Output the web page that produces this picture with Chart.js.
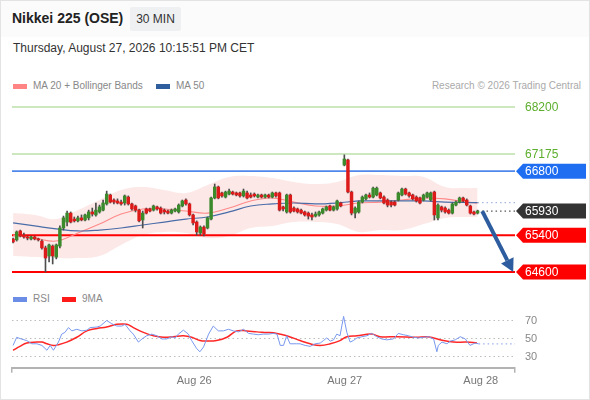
<!DOCTYPE html>
<html>
<head>
<meta charset="utf-8">
<script src="https://cdn.jsdelivr.net/npm/chart.js@4.4.1/dist/chart.umd.min.js"></script>
<style>
  body { margin: 0; background: #fff; font-family: "Liberation Sans", Arial, sans-serif; }
  #page { position: relative; width: 590px; height: 400px; overflow: hidden; }
  #frame { position: absolute; left: 0; top: 0; width: 588px; height: 398px; border: 1px solid #e3e3e3; }
  #head { position: absolute; left: 1px; top: 1px; width: 588px; height: 36px; background: #fbfbfb; }
  .abs { position: absolute; white-space: nowrap; }
  #title { left: 12px; top: 8px; font-size: 14px; font-weight: bold; color: #222; line-height: 20px; }
  #tf { left: 130px; top: 7px; width: 51px; height: 24px; line-height: 24px; background: #eff0f2; border-radius: 2px;
        font-size: 12px; color: #333; text-align: center; }
  #date { left: 13px; top: 41px; font-size: 12px; color: #333; line-height: 14px; }
  .leg { font-size: 10px; color: #888; line-height: 12px; }
  .sw { position: absolute; width: 14px; height: 5px; }
  canvas { position: absolute; left: 0; }
</style>
</head>
<body>
<div id="page">
  <div id="frame"></div>
  <div id="head"></div>
  <div class="abs" id="title">Nikkei 225 (OSE)</div>
  <div class="abs" id="tf">30 MIN</div>
  <div class="abs" id="date">Thursday, August 27, 2026 10:15:51 PM CET</div>

  <div class="sw" style="left:13px; top:84px; background:#ff8585;"></div>
  <div class="abs leg" style="left:33px; top:80px;">MA 20 + Bollinger Bands</div>
  <div class="sw" style="left:156px; top:84px; background:#2f5e9e;"></div>
  <div class="abs leg" style="left:176px; top:80px;">MA 50</div>
  <div class="abs leg" style="right:9px; top:80px; color:#aaa;">Research © 2026 Trading Central</div>

  <div class="sw" style="left:13px; top:297px; background:#6b8de6;"></div>
  <div class="abs leg" style="left:33px; top:293px;">RSI</div>
  <div class="sw" style="left:62px; top:297px; background:#ff1a1a;"></div>
  <div class="abs leg" style="left:82px; top:293px;">9MA</div>

  <canvas id="price" width="590" height="195" style="top:90px; width:590px; height:195px;"></canvas>
  <canvas id="rsi" width="590" height="90" style="top:305px; width:590px; height:90px;"></canvas>
</div>
<script>
// 30 min candles
var opens = [
  65320, 65300, 65495, 65405, 65365, 65320, 65365, 65320, 65275, 65125,
  64950, 65165, 64925, 65165, 65560, 65690, 65885, 65755, 65715, 65780,
  65735, 65780, 65910, 65845, 65910, 65950, 66085, 66280, 66170, 66150,
  66125, 66105, 66235, 66085, 66040, 65950, 65735, 65975, 65975, 65950,
  66020, 65995, 65950, 65930, 65885, 65930, 65910, 66040, 66170, 66085,
  65845, 65690, 65450, 65580, 65560, 65755, 66215, 66455, 66325, 66235,
  66300, 66345, 66325, 66325, 66260, 66325, 66280, 66300, 66235, 66280,
  66235, 66280, 66235, 66325, 66325, 66020, 65910, 66280, 65995, 65975,
  65950, 65910, 65885, 65845, 65820, 65845, 65885, 65950, 66040, 65950,
  65975, 66105, 66935, 67045, 66345, 65885, 65910, 66125, 66195, 66280,
  66235, 66280, 66325, 66235, 66170, 66125, 66125, 66170, 66280, 66410,
  66325, 66280, 66235, 66215, 66170, 66235, 66170, 66345, 65780, 66020,
  65995, 65950, 65885, 66060, 66125, 66215, 66170, 66040, 65910, 65885
];
var highs = [
  65340, 65495, 65515, 65450, 65385, 65385, 65385, 65340, 65300, 65165,
  65210, 65190, 65210, 65605, 65820, 65930, 65910, 65800, 65820, 65845,
  65865, 65950, 65995, 66105, 66060, 66170, 66365, 66300, 66195, 66195,
  66170, 66280, 66260, 66105, 66060, 65975, 65930, 65995, 65995, 66060,
  66040, 66020, 65975, 65950, 65975, 65995, 66085, 66170, 66195, 66105,
  65865, 65715, 65605, 65605, 65800, 66235, 66520, 66475, 66345, 66365,
  66410, 66365, 66345, 66345, 66410, 66365, 66325, 66325, 66300, 66300,
  66300, 66300, 66345, 66345, 66345, 66040, 66300, 66300, 66020, 65995,
  65975, 65930, 65910, 65885, 65910, 65930, 65995, 66040, 66060, 66040,
  66170, 66125, 67155, 67065, 66365, 66020, 66150, 66260, 66300, 66325,
  66455, 66455, 66345, 66260, 66195, 66150, 66150, 66345, 66430, 66430,
  66345, 66300, 66260, 66235, 66300, 66345, 66345, 66365, 66085, 66040,
  66020, 65975, 66105, 66150, 66235, 66235, 66195, 66060, 65930, 65950
];
var lows = [
  65235, 65275, 65365, 65340, 65300, 65300, 65300, 65275, 65100, 64600,
  64820, 64775, 64885, 65125, 65515, 65605, 65670, 65690, 65690, 65715,
  65715, 65735, 65820, 65820, 65885, 65930, 66060, 66105, 66085, 66085,
  66060, 66060, 66060, 65950, 65910, 65690, 65560, 65865, 65910, 65930,
  65950, 65865, 65865, 65865, 65865, 65910, 65885, 66020, 66060, 65820,
  65625, 65405, 65405, 65385, 65540, 65735, 66195, 66195, 66235, 66215,
  66280, 66280, 66260, 66235, 66235, 66195, 66215, 66235, 66215, 66215,
  66215, 66215, 66215, 66235, 65930, 65930, 65885, 65885, 65910, 65885,
  65865, 65820, 65755, 65735, 65800, 65820, 65865, 65930, 65930, 65930,
  65950, 66020, 66915, 66325, 65845, 65780, 65885, 66105, 66170, 66215,
  66215, 66260, 66195, 66085, 66020, 66020, 66040, 66150, 66260, 66280,
  66235, 66170, 66125, 66085, 66150, 66215, 66150, 65735, 65735, 65910,
  65885, 65865, 65865, 66040, 66105, 66125, 66040, 65865, 65845, 65865
];
var closes = [
  65255, 65475, 65385, 65365, 65340, 65365, 65320, 65300, 65125, 64905,
  65190, 64950, 65190, 65560, 65780, 65885, 65690, 65715, 65780, 65735,
  65845, 65910, 65865, 65950, 66020, 66105, 66300, 66125, 66125, 66105,
  66085, 66260, 66085, 65975, 65950, 65715, 65885, 65885, 65930, 66040,
  65975, 65885, 65910, 65885, 65950, 65975, 66060, 66150, 66085, 65845,
  65670, 65475, 65580, 65430, 65780, 66215, 66455, 66215, 66260, 66345,
  66365, 66300, 66280, 66260, 66365, 66215, 66235, 66260, 66280, 66235,
  66280, 66235, 66325, 66260, 65950, 65975, 66280, 65910, 65930, 65910,
  65885, 65845, 65820, 65800, 65865, 65910, 65975, 66020, 65950, 66020,
  66150, 66040, 67065, 66345, 65885, 65995, 66125, 66235, 66280, 66235,
  66430, 66430, 66215, 66105, 66060, 66060, 66060, 66325, 66410, 66300,
  66260, 66195, 66150, 66105, 66280, 66325, 66325, 65845, 66060, 65950,
  65910, 65885, 66085, 66125, 66215, 66150, 66060, 65885, 65865, 65930
];

// overlays, sampled at these candle positions
var maAt    = [0, 6, 12, 18, 24, 30, 36, 42, 48, 54, 60, 66, 72, 78, 84, 90, 96, 102, 108, 114, 120, 126, 129];
var ma20    = [65405, 65340, 65275, 65450, 65645, 65865, 65975, 65975, 65930, 65885, 65995, 66150, 66215, 66125, 66040, 66040, 66105, 66125, 66170, 66215, 66195, 66125, 66105];
var ma50    = [65670, 65605, 65540, 65495, 65515, 65560, 65625, 65690, 65755, 65800, 65910, 66040, 66085, 66105, 66085, 66105, 66150, 66150, 66150, 66150, 66125, 66115, 66115];
var bbUpper = [65885, 65845, 65755, 65950, 66170, 66390, 66455, 66390, 66325, 66500, 66675, 66695, 66650, 66565, 66520, 66565, 66715, 66715, 66695, 66675, 66455, 66430, 66430];
var bbLower = [64950, 64925, 64905, 64905, 64950, 65190, 65405, 65475, 65450, 65340, 65385, 65560, 65605, 65690, 65690, 65645, 65475, 65515, 65515, 65645, 65780, 65800, 65800];

var levels = [68200, 67175, 66800, 65400, 64600];
var lastPrice = 65930;
var arrowX = [130.3, 138.9];
var arrowY = [65930, 64600];

// RSI panel
var rsiAt  = [0, 1, 2.4, 3.8, 5.2, 6.6, 8, 9.4, 10.3, 11.2, 12.6, 13.5, 14.4, 15.4, 16.3, 17.7, 19.1, 20.5, 21.4, 23.3,
              24.2, 26, 27.4, 28.8, 30.2, 31.1, 32.5, 33.4, 34.8, 35.8, 37.1, 38.5, 39.9, 41.3, 42.7, 44.1, 45, 45.9, 47.3, 48.7,
              49.6, 51, 51.9, 52.9, 54.3, 55.6, 57, 58.4, 59.8, 61.2, 62.6, 64, 65.4, 66.8, 68.1, 69.5, 70.9, 72.3, 73.3, 74.2,
              75.1, 76, 76.9, 78.8, 79.7, 81.1, 82.5, 83.9, 85.3, 86.2, 87.1, 88.1, 89, 89.9, 90.8, 91.8, 92.7, 93.6, 94.5, 95.5,
              96.9, 98.3, 99.6, 101, 102.4, 103.8, 105.6, 107, 108.4, 109.8, 111.2, 112.6, 114, 115.4, 116.8, 117.7, 118.1, 119.1, 120.5, 121.4,
              122.8, 124.2, 125.6, 126.9, 128.3, 129.3];
var rsiVal = [42, 51, 49, 47.4, 43.8, 43.8, 42, 36.6, 42, 36.6, 45.7, 54.6, 56.5, 61.9, 58.2, 60, 58.2, 59, 61.9, 62.5,
              63.6, 69.8, 66.2, 63.6, 63.6, 65.5, 58.2, 54.6, 45.7, 49.2, 52.8, 54.6, 52.8, 49.2, 49.2, 51.7, 50.3, 54.6, 59, 54.6,
              47.4, 38.4, 34.9, 40.3, 54.6, 63.6, 58.2, 58.2, 60, 58.2, 57.1, 60, 55.4, 54.6, 53.9, 54.6, 54.6, 55.4, 54.6, 42,
              42, 52.8, 43.8, 43.8, 43.8, 42, 40.9, 43.8, 44.6, 47.4, 50.3, 46.8, 48.2, 54.6, 52.8, 74.4, 56.5, 45.7, 47.4, 50.3,
              51.7, 52.8, 55.4, 51.7, 49.2, 48.2, 49.2, 55.4, 53.9, 52.8, 51.1, 50.3, 51.1, 51.7, 49.2, 34.9, 42, 45.7, 43.8, 46.8,
              48.2, 51.7, 49.2, 42, 44.6, 43.8];
var rsiMaAt  = [0, 1.9, 3.8, 6.6, 8, 9.4, 11.2, 12.6, 14.9, 17.7, 20.5, 23.3, 26, 28.8, 31.6, 33.4, 36.2, 39, 41.8, 44.5,
                47.3, 49.6, 51.9, 53.8, 56.5, 59.4, 62.1, 64.9, 67.7, 70.5, 73.3, 76, 79.7, 82.5, 85.3, 88.1, 90.8, 92.7, 95.5, 99.6,
                101.9, 106.6, 112.1, 114.9, 116.8, 119.5, 122.3, 126, 128.8];
var rsiMaVal = [36.6, 40.9, 44.6, 45.7, 45.7, 43.8, 42, 42.8, 45.7, 51.1, 58.2, 60.8, 62.5, 65.5, 65.5, 61.9, 56.5, 52.8, 51.1, 51.7,
                52.8, 51.1, 47.4, 46.8, 47.4, 51.1, 58.2, 58.2, 57.1, 56.5, 55.4, 52.8, 47.4, 43.8, 42, 43.8, 47.4, 51.7, 52.8, 54.6,
                51.7, 51.7, 51.1, 51.7, 50.3, 47.4, 45.7, 45.7, 44.9];
var rsiTicks = [30, 50, 70];

var dayTicks = [50.3, 92.1, 129.9];
var dayLabels = ["Aug 26", "Aug 27", "Aug 28"];

// layout constants
var X_MIN = -0.3, X_MAX = 139.4;
var P_MIN = 64316, P_MAX = 68571;
var R_MIN = 17.0, R_MAX = 87.1;
var FONT = '"Liberation Sans", Arial, sans-serif';

Chart.defaults.font.family = FONT;

function pts(xs, ys) {
    var out = [];
    var n = Math.min(xs.length, ys.length);
    for (var i = 0; i < n; i++) {
        out.push({x: xs[i], y: ys[i]});
    }
    return out;
}

var levelStyle = [
    {line: "#bcdfa8", width: 1.5, text: "#5cae2c", tag: null},
    {line: "#bcdfa8", width: 1.5, text: "#5cae2c", tag: null},
    {line: "#4f87ea", width: 1.8, text: "#fff", tag: "#1f6ef2"},
    {line: "#ff0000", width: 2, text: "#fff", tag: "#ff0000"},
    {line: "#ff0000", width: 2, text: "#fff", tag: "#ff0000"}
];

function drawTag(ctx, x, y, color) {
    ctx.fillStyle = color;
    ctx.beginPath();
    ctx.moveTo(x, y);
    ctx.lineTo(x + 7, y - 7.5);
    ctx.lineTo(586, y - 7.5);
    ctx.lineTo(586, y + 7.5);
    ctx.lineTo(x + 7, y + 7.5);
    ctx.closePath();
    ctx.fill();
}

// price labels on the right and the forecast arrow
var priceLabels = {
    id: "priceLabels",
    afterDraw: function(chart) {
        var ctx = chart.ctx, area = chart.chartArea;
        var ys = chart.scales.y, xs = chart.scales.x;
        ctx.save();
        ctx.font = "12px " + FONT;
        ctx.textBaseline = "middle";
        levels.forEach(function(lv, k) {
            var y = ys.getPixelForValue(lv);
            var st = levelStyle[k];
            if (st.tag) {
                drawTag(ctx, area.right + 1, y, st.tag);
            }
            ctx.fillStyle = st.text;
            ctx.fillText(String(lv), area.right + 10, y + 0.5);
        });
        var yl = ys.getPixelForValue(lastPrice);
        drawTag(ctx, area.right + 1, yl, "#333333");
        ctx.fillStyle = "#fff";
        ctx.fillText(String(lastPrice), area.right + 10, yl + 0.5);

        // arrow
        var x0 = xs.getPixelForValue(arrowX[0]), y0 = ys.getPixelForValue(arrowY[0]);
        var x1 = xs.getPixelForValue(arrowX[1]), y1 = ys.getPixelForValue(arrowY[1]);
        var ang = Math.atan2(y1 - y0, x1 - x0);
        var head = 13, half = 7;
        var bx = x1 - Math.cos(ang) * head, by = y1 - Math.sin(ang) * head;
        ctx.strokeStyle = "#2d5d9e";
        ctx.fillStyle = "#2d5d9e";
        ctx.lineWidth = 4;
        ctx.beginPath();
        ctx.moveTo(x0, y0);
        ctx.lineTo(bx, by);
        ctx.stroke();
        ctx.beginPath();
        ctx.moveTo(x1, y1);
        ctx.lineTo(bx + Math.sin(ang) * half, by - Math.cos(ang) * half);
        ctx.lineTo(bx - Math.sin(ang) * half, by + Math.cos(ang) * half);
        ctx.closePath();
        ctx.fill();
        ctx.restore();
    }
};

var rsiLabels = {
    id: "rsiLabels",
    afterDraw: function(chart) {
        var ctx = chart.ctx, area = chart.chartArea;
        ctx.save();
        ctx.font = "11px " + FONT;
        ctx.fillStyle = "#888";
        ctx.textBaseline = "middle";
        rsiTicks.forEach(function(v) {
            ctx.fillText(String(v), area.right + 10, chart.scales.y.getPixelForValue(v) + 0.5);
        });
        ctx.restore();
    }
};

var idx = closes.map(function(c, i) { return i; });
var last = closes.length - 1;

var priceSets = [
    {type: "line", data: pts(maAt, bbUpper), borderWidth: 0, pointRadius: 0, fill: false, tension: 0.4, order: 30},
    {type: "line", data: pts(maAt, bbLower), borderWidth: 0, pointRadius: 0, fill: "-1",
     backgroundColor: "rgba(248,160,160,0.24)", tension: 0.4, order: 29}
];
levels.forEach(function(lv, k) {
    priceSets.push({type: "line", data: [{x: X_MIN, y: lv}, {x: X_MAX, y: lv}],
        borderColor: levelStyle[k].line, borderWidth: levelStyle[k].width, pointRadius: 0, order: 20});
});
priceSets.push(
    {type: "line", data: [{x: last, y: lastPrice}, {x: X_MAX, y: lastPrice}], borderColor: "#555",
     borderWidth: 1.2, borderDash: [1.5, 3], pointRadius: 0, order: 19},
    {type: "line", data: [{x: last, y: ma50[ma50.length - 1]}, {x: X_MAX, y: ma50[ma50.length - 1]}], borderColor: "#a5b9e0",
     borderWidth: 1.2, borderDash: [1.5, 3], pointRadius: 0, order: 19},
    {type: "line", data: pts(maAt, ma20), borderColor: "#ff8a8a", borderWidth: 1.1, pointRadius: 0, tension: 0.4, order: 8},
    {type: "line", data: pts(maAt, ma50), borderColor: "#4a6da8", borderWidth: 1.2, pointRadius: 0, tension: 0.4, order: 7},
    {type: "bar", data: idx.map(function(i) { return {x: i, y: [lows[i], highs[i]]}; }),
     backgroundColor: "#4d4d4d", barThickness: 1, grouped: false, order: 3},
    {type: "bar", data: idx.map(function(i) { return {x: i, y: [opens[i], closes[i]]}; }),
     backgroundColor: idx.map(function(i) { return closes[i] >= opens[i] ? "#3b8a2c" : "#dc1a1a"; }),
     barThickness: 2.8, minBarLength: 1, grouped: false, order: 2}
);

new Chart(document.getElementById("price"), {
    type: "line",
    data: {datasets: priceSets},
    options: {
        responsive: false,
        animation: false,
        events: [],
        layout: {padding: {left: 12, right: 75, top: 0, bottom: 0}},
        plugins: {legend: {display: false}, tooltip: {enabled: false}},
        scales: {
            x: {type: "linear", min: X_MIN, max: X_MAX, offset: false, display: false},
            y: {type: "linear", min: P_MIN, max: P_MAX, display: false}
        }
    },
    plugins: [priceLabels]
});

var rsiLastAt = rsiAt[rsiAt.length - 1], rsiLast = rsiVal[rsiVal.length - 1];

new Chart(document.getElementById("rsi"), {
    type: "line",
    data: {
        datasets: [
            {data: [{x: rsiLastAt, y: rsiLast}, {x: X_MAX, y: rsiLast}], borderColor: "#9db3f2",
             borderWidth: 1.2, borderDash: [1.5, 3], pointRadius: 0},
            {data: pts(rsiAt, rsiVal), borderColor: "#7898ee", borderWidth: 1, pointRadius: 0, tension: 0},
            {data: pts(rsiMaAt, rsiMaVal), borderColor: "#ff2626", borderWidth: 1.5, pointRadius: 0, tension: 0.4}
        ]
    },
    options: {
        responsive: false,
        animation: false,
        events: [],
        layout: {padding: {left: 12, right: 0, top: 0, bottom: 5}},
        plugins: {legend: {display: false}, tooltip: {enabled: false}},
        scales: {
            x: {
                type: "linear", min: X_MIN, max: X_MAX, offset: false,
                afterBuildTicks: function(s) {
                    s.ticks = [X_MIN].concat(dayTicks, [X_MAX]).map(function(v) { return {value: v}; });
                },
                ticks: {
                    autoSkip: false, maxRotation: 0, padding: 2, color: "#777", font: {size: 11},
                    callback: function(v, i, all) {
                        if (i === 0 || i === all.length - 1) return "";
                        return dayLabels[i - 1];
                    }
                },
                grid: {
                    drawOnChartArea: false, drawTicks: true, tickLength: 5, lineWidth: 1.5,
                    color: function(c) {
                        var n = c.scale.ticks.length;
                        return (c.index === 0 || c.index === n - 1) ? "#b3b3b3" : "rgba(0,0,0,0)";
                    }
                },
                border: {display: true, color: "#b3b3b3", width: 2}
            },
            y: {
                type: "linear", position: "right", min: R_MIN, max: R_MAX,
                afterBuildTicks: function(s) {
                    s.ticks = rsiTicks.map(function(v) { return {value: v}; });
                },
                afterFit: function(s) { s.width = 75; },
                ticks: {display: false},
                grid: {color: "#bdbdbd", drawTicks: false, lineWidth: 1},
                border: {display: false, dash: [1.5, 3]}
            }
        }
    },
    plugins: [rsiLabels]
});
</script>
</body>
</html>
